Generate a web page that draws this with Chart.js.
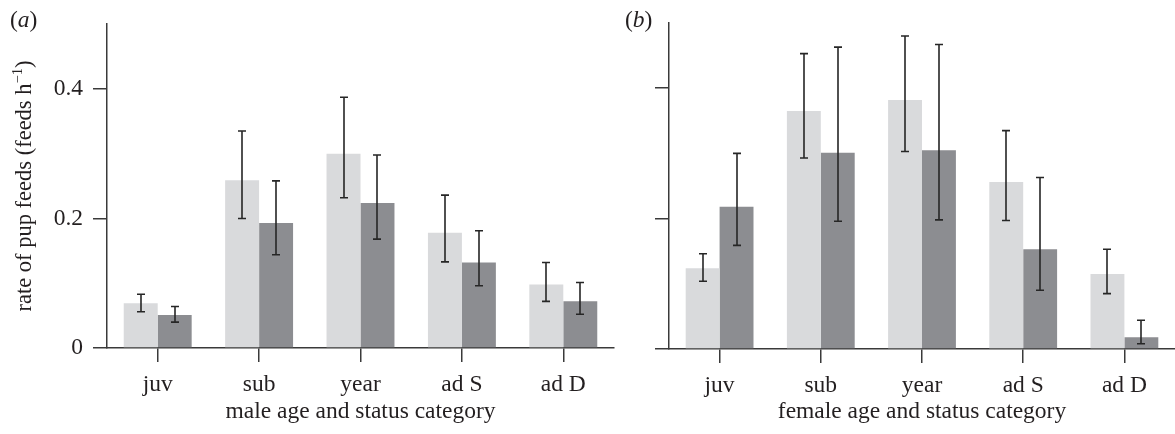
<!DOCTYPE html>
<html><head><meta charset="utf-8">
<script src="https://cdn.jsdelivr.net/npm/chart.js@4"></script>
<style>
html,body{margin:0;padding:0;background:#fff;}
#wrap{position:relative;width:1175px;height:434px;overflow:hidden;}
.c{position:absolute;top:0;height:434px;}
</style></head>
<body><div id="wrap">
<div class="c" style="left:0;width:620px;"><canvas id="ca"></canvas></div>
<div class="c" style="left:620px;width:555px;"><canvas id="cb"></canvas></div>
</div>
<script>
// ---- data ----
const categories = ['juv', 'sub', 'year', 'ad S', 'ad D'];
const yTicks = [0, 0.2, 0.4];
const yTickLabels = ['0', '0.2', '0.4'];

const maleLight     = [0.069, 0.259, 0.300, 0.178, 0.098];
const maleLightLow  = [0.056, 0.200, 0.232, 0.133, 0.072];
const maleLightHigh = [0.083, 0.335, 0.387, 0.236, 0.132];
const maleDark      = [0.051, 0.193, 0.224, 0.132, 0.072];
const maleDarkLow   = [0.040, 0.144, 0.168, 0.096, 0.052];
const maleDarkHigh  = [0.064, 0.258, 0.298, 0.181, 0.101];

const femaleLight     = [0.124, 0.365, 0.382, 0.256, 0.115];
const femaleLightLow  = [0.104, 0.293, 0.303, 0.197, 0.085];
const femaleLightHigh = [0.146, 0.453, 0.480, 0.335, 0.153];
const femaleDark      = [0.218, 0.301, 0.305, 0.153, 0.018];
const femaleDarkLow   = [0.159, 0.196, 0.198, 0.090, 0.008];
const femaleDarkHigh  = [0.300, 0.463, 0.467, 0.263, 0.044];

// ---- styling ----
const FONT = "'Liberation Serif', 'Times New Roman', serif";
const TXT = '#231f20';
const AX = '#3a3a3a';
const LIGHT = '#d9dadc';
const DARK = '#8c8d91';
Chart.defaults.font.family = FONT;
Chart.defaults.font.size = 23.5;
Chart.defaults.color = TXT;

const errorBars = {
  id: 'errorBars',
  afterDatasetsDraw(chart) {
    const ctx = chart.ctx, ys = chart.scales.y;
    ctx.save();
    ctx.strokeStyle = '#262626';
    ctx.lineWidth = 1.6;
    chart.data.datasets.forEach((ds, i) => {
      const meta = chart.getDatasetMeta(i);
      meta.data.forEach((bar, j) => {
        const x = Math.round(bar.x);
        const yl = ys.getPixelForValue(ds.errLow[j]);
        const yh = ys.getPixelForValue(ds.errHigh[j]);
        ctx.beginPath();
        ctx.moveTo(x, yl); ctx.lineTo(x, yh);
        ctx.moveTo(x - 4, yl); ctx.lineTo(x + 4, yl);
        ctx.moveTo(x - 4, yh); ctx.lineTo(x + 4, yh);
        ctx.stroke();
      });
    });
    ctx.restore();
  }
};

const panelText = {
  id: 'panelText',
  afterDraw(chart, args, opts) {
    const ctx = chart.ctx;
    ctx.save();
    ctx.fillStyle = TXT;
    ctx.textBaseline = 'alphabetic';
    // panel letter with italic letter in upright parentheses
    let x = opts.lx;
    const by = opts.ly;
    ctx.font = `23.5px ${FONT}`;
    ctx.fillText('(', x, by); x += ctx.measureText('(').width;
    ctx.font = `italic 23.5px ${FONT}`;
    ctx.fillText(opts.letter, x, by); x += ctx.measureText(opts.letter).width;
    ctx.font = `23.5px ${FONT}`;
    ctx.fillText(')', x, by);
    if (opts.ytitle) {
      const FS = 22.5, SS = 14.5;
      const main = 'rate of pup feeds (feeds h';
      const sup = '\u22121';
      const end = ')';
      ctx.font = `${FS}px ${FONT}`;
      const w1 = ctx.measureText(main).width;
      const w3 = ctx.measureText(end).width;
      ctx.font = `${SS}px ${FONT}`;
      const w2 = ctx.measureText(sup).width;
      const total = w1 + w2 + w3;
      const ty = (chart.chartArea.top + chart.chartArea.bottom) / 2;
      ctx.translate(opts.tx, ty);
      ctx.rotate(-Math.PI / 2);
      let px = -total / 2;
      ctx.font = `${FS}px ${FONT}`;
      ctx.fillText(main, px, 0); px += w1;
      ctx.font = `${SS}px ${FONT}`;
      ctx.fillText(sup, px, -9); px += w2;
      ctx.font = `${FS}px ${FONT}`;
      ctx.fillText(end, px, 0);
    }
    ctx.restore();
  }
};

function makePanel(id, light, lightLow, lightHigh, dark, darkLow, darkHigh, o) {
  return new Chart(document.getElementById(id), {
    type: 'bar',
    data: {
      labels: categories,
      datasets: [
        { data: light, backgroundColor: LIGHT, errLow: lightLow, errHigh: lightHigh,
          categoryPercentage: 0.67, barPercentage: 1.0 },
        { data: dark, backgroundColor: DARK, errLow: darkLow, errHigh: darkHigh,
          categoryPercentage: 0.67, barPercentage: 1.0 }
      ]
    },
    options: {
      responsive: true, maintainAspectRatio: false, animation: false,
      events: [],
      layout: { padding: { top: o.top, right: o.right, left: 0, bottom: 0 } },
      plugins: { legend: { display: false }, tooltip: { enabled: false },
        panelText: o.text },
      scales: {
        x: {
          type: 'category', offset: true,
          grid: { display: true, offset: false, drawOnChartArea: false, drawTicks: true,
                  tickLength: 14, color: AX, lineWidth: 1.5 },
          border: { display: true, color: AX, width: 1.5 },
          ticks: { padding: 9, color: TXT, maxRotation: 0, autoSkip: false },
          title: { display: true, text: o.xtitle, color: TXT, padding: { top: 0, bottom: 8 } },
          afterFit(s) { s.height = o.xh; }
        },
        y: {
          min: 0, max: 0.5,
          afterBuildTicks(s) { s.ticks = yTicks.map(v => ({ value: v })); },
          grid: { display: true, drawOnChartArea: false, drawTicks: true, tickLength: 14,
                  color: AX, lineWidth: 1.5 },
          border: { display: true, color: AX, width: 1.5 },
          ticks: { display: o.yLabels, padding: 10, color: TXT,
                   callback: (v, i) => yTickLabels[yTicks.indexOf(v)] },
          afterFit(s) { s.width = o.yw; }
        }
      }
    },
    plugins: [errorBars, panelText]
  });
}

makePanel('ca', maleLight, maleLightLow, maleLightHigh, maleDark, maleDarkLow, maleDarkHigh, {
  top: 22, right: 6, xh: 86, yw: 107, yLabels: true,
  xtitle: 'male age and status category',
  text: { letter: 'a', lx: 10, ly: 27, ytitle: true, tx: 31 }
});
makePanel('cb', femaleLight, femaleLightLow, femaleLightHigh, femaleDark, femaleDarkLow, femaleDarkHigh, {
  top: 23, right: 0, xh: 85, yw: 49, yLabels: false,
  xtitle: 'female age and status category',
  text: { letter: 'b', lx: 5, ly: 27, ytitle: false }
});
</script>
</body></html>
